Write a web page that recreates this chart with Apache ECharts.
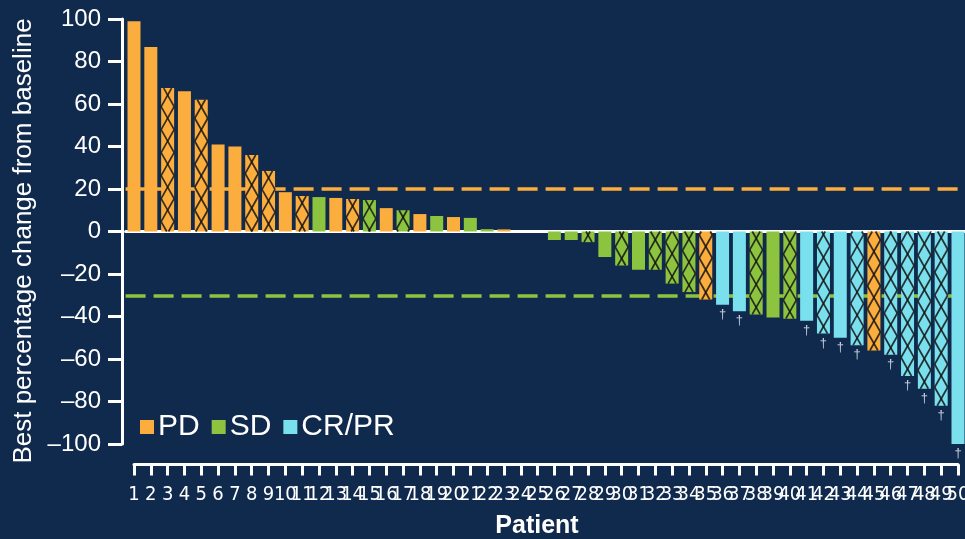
<!DOCTYPE html>
<html>
<head>
<meta charset="utf-8">
<script src="https://cdn.jsdelivr.net/npm/echarts@6/dist/echarts.min.js"></script>
<style>
  html, body { margin: 0; padding: 0; background: #102a4e; }
  #chart { width: 965px; height: 539px; }
</style>
</head>
<body>
<div id="chart"></div>
<script>
// Patients ordered by best percentage change from baseline
const patients = ['1','2','3','4','5','6','7','8','9','10','11','12','13','14','15','16','17','18','19','20','21','22','23','24','25',
                  '26','27','28','29','30','31','32','33','34','35','36','37','38','39','40','41','42','43','44','45','46','47','48','49','50'];
const bestChange = [99, 86.8, 67.5, 66, 62, 41, 40, 36, 28.5, 18.5,
                    16.7, 16.2, 15.8, 15.3, 14.8, 11, 10, 8.2, 7.3, 6.8,
                    6.4, 1.1, 1, 0, 0, -4, -4, -5, -12, -16,
                    -18, -18, -24.5, -28.5, -32, -34.5, -37.5, -39, -40.5, -41,
                    -42, -48, -50, -53.5, -56, -58, -68, -74, -82, -100];
const response = ['PD','PD','PD','PD','PD','PD','PD','PD','PD','PD',
                  'PD','SD','PD','PD','SD','PD','SD','PD','SD','PD',
                  'SD','SD','PD','SD','SD','SD','SD','SD','SD','SD',
                  'SD','SD','SD','SD','PD','CR/PR','CR/PR','SD','SD','SD',
                  'CR/PR','CR/PR','CR/PR','CR/PR','PD','CR/PR','CR/PR','CR/PR','CR/PR','CR/PR'];
// 1 = cross-hatched bar
const hatched = [0,0,1,0,1,0,0,1,1,0,
                 1,0,0,1,1,0,1,0,0,0,
                 0,0,0,0,0,0,0,1,0,1,
                 0,1,1,1,1,0,0,1,0,1,
                 0,1,0,1,1,1,1,1,1,0];
// 1 = dagger footnote under the bar
const dagger = [0,0,0,0,0,0,0,0,0,0,
                0,0,0,0,0,0,0,0,0,0,
                0,0,0,0,0,0,0,0,0,0,
                0,0,0,0,0,1,1,0,0,0,
                1,1,1,1,0,1,1,1,1,1];
const responseGroups = ['PD', 'SD', 'CR/PR'];
const pdThreshold = 20;
const prThreshold = -30;
const yTicks = [-100, -80, -60, -40, -20, 0, 20, 40, 60, 80, 100];

const colors = { 'PD': '#fbad3d', 'SD': '#8cc440', 'CR/PR': '#7ae0ee' };
const BG = '#102a4e';
const FONT = "'Liberation Sans', Arial, sans-serif";
const NARROW = "'Liberation Sans Narrow', 'DejaVu Sans Condensed', 'Arial Narrow', sans-serif";
const BAR_W = 13;
const CELL_H = 23;

const barSeries = responseGroups.map(function (g) {
  return {
    name: g,
    type: 'bar',
    xAxisIndex: 0, yAxisIndex: 0,
    barWidth: BAR_W,
    barGap: '-100%',
    z: 10,
    itemStyle: { color: colors[g] },
    data: bestChange.map(function (v, i) { return response[i] === g ? v : '-'; })
  };
});

// Clip a segment (x0,y0)-(x1,y1) vertically to [top, bottom]
function clipSeg(x0, y0, x1, y1, top, bottom) {
  let t0 = (top - y0) / (y1 - y0), t1 = (bottom - y0) / (y1 - y0);
  if (t0 > t1) { const t = t0; t0 = t1; t1 = t; }
  t0 = Math.max(0, t0); t1 = Math.min(1, t1);
  if (t1 <= t0) return null;
  return { x1: x0 + (x1 - x0) * t0, y1: y0 + (y1 - y0) * t0, x2: x0 + (x1 - x0) * t1, y2: y0 + (y1 - y0) * t1 };
}

const overlayData = bestChange.map(function (v, i) { return [i, v, hatched[i], dagger[i]]; });

const overlaySeries = {
  type: 'custom',
  xAxisIndex: 0, yAxisIndex: 0,
  z: 11,
  silent: true,
  data: overlayData,
  renderItem: function (params, api) {
    const idx = api.value(0), val = api.value(1);
    const end = api.coord([idx, val]);
    const zero = api.coord([idx, 0]);
    const cx = end[0];
    const L = cx - BAR_W / 2, R = cx + BAR_W / 2;
    const top = Math.min(end[1], zero[1]), bottom = Math.max(end[1], zero[1]);
    const children = [];
    if (api.value(2) && bottom - top > 1) {
      // cross-hatch cells anchored at the bar's far end
      const dir = val >= 0 ? 1 : -1;
      let start = end[1] - dir * 4.5;
      for (let k = 0; k < 40; k++) {
        const ya = start + dir * k * CELL_H, yb = ya + dir * CELL_H;
        if ((dir > 0 && ya > bottom) || (dir < 0 && ya < top)) break;
        [[L, ya, R, yb], [R, ya, L, yb]].forEach(function (s) {
          const c = clipSeg(s[0], s[1], s[2], s[3], top, bottom);
          if (c) children.push({ type: 'line', shape: c, style: { stroke: 'rgba(20,20,20,0.85)', lineWidth: 1.7 } });
        });
      }
    }
    if (api.value(3)) {
      children.push({
        type: 'text',
        style: { text: '\u2020', x: cx, y: end[1] + 3, align: 'center', verticalAlign: 'top',
                 fill: '#c9d1dc', font: '13px ' + FONT }
      });
    }
    return { type: 'group', children: children };
  }
};

// Dashed response thresholds, drawn behind the bars
const thresholdSeries = {
  type: 'line',
  xAxisIndex: 0, yAxisIndex: 0,
  z: 1,
  silent: true,
  data: patients.map(function () { return '-'; }),
  markLine: {
    silent: true,
    z: 1,
    symbol: 'none',
    label: { show: false },
    data: [
      { yAxis: pdThreshold, lineStyle: { color: colors['PD'], type: [20, 8], width: 3.5 } },
      { yAxis: prThreshold, lineStyle: { color: colors['SD'], type: [20, 8], width: 3.5 } }
    ]
  }
};

const chart = echarts.init(document.getElementById('chart'), null, { renderer: 'canvas' });
chart.setOption({
  backgroundColor: BG,
  animation: false,
  textStyle: { fontFamily: FONT },
  grid: [
    { left: 125.6, width: 840.8, top: 19, bottom: 95, outerBoundsMode: 'none' },
    { left: 134, width: 824, top: 420, height: 44.5, outerBoundsMode: 'none' }
  ],
  legend: {
    data: responseGroups,
    left: 135, top: 407,
    icon: 'rect',
    itemWidth: 14, itemHeight: 14,
    itemGap: 12,
    textStyle: { color: '#ffffff', fontSize: 30, fontFamily: FONT, padding: [0, 0, 0, -1] },
    selectedMode: false
  },
  xAxis: [
    {
      type: 'category', gridIndex: 0, data: patients,
      axisLine: { onZero: true, lineStyle: { color: '#ffffff', width: 3 } },
      axisTick: { show: false }, axisLabel: { show: false }, splitLine: { show: false }
    },
    {
      // bracket-style patient axis below the plot
      type: 'category', gridIndex: 1, data: patients, boundaryGap: false,
      axisLine: { show: true, lineStyle: { color: '#ffffff', width: 3 } },
      axisTick: { show: true, interval: 0, length: 11, lineStyle: { color: '#ffffff', width: 3 } },
      axisLabel: { color: '#ffffff', fontSize: 20, fontFamily: NARROW, margin: 20, interval: 0,
                   hideOverlap: false },
      splitLine: { show: false }
    }
  ],
  yAxis: [
    {
      type: 'value', gridIndex: 0, min: yTicks[0], max: yTicks[yTicks.length - 1], interval: 20,
      offset: 3.6,
      axisLine: { show: true, lineStyle: { color: '#ffffff', width: 3 } },
      axisTick: { show: true, length: 14, lineStyle: { color: '#ffffff', width: 3 } },
      axisLabel: { color: '#ffffff', fontSize: 24, fontFamily: FONT, margin: 21,
                   formatter: function (v) { return v < 0 ? '\u2013' + Math.abs(v) : String(v); } },
      splitLine: { show: false }
    },
    { type: 'value', gridIndex: 1, show: false, min: 0, max: 1 }
  ],
  graphic: [
    {
      type: 'text', x: 24, y: 241, rotation: Math.PI / 2,
      style: { text: 'Best percentage change from baseline', fill: '#ffffff',
               font: '26px ' + FONT, align: 'center', verticalAlign: 'middle' }
    },
    {
      type: 'text', x: 537, y: 526,
      style: { text: 'Patient', fill: '#ffffff', font: 'bold 25px ' + FONT,
               align: 'center', verticalAlign: 'middle' }
    }
  ],
  series: [thresholdSeries].concat(barSeries, [overlaySeries])
});
</script>
</body>
</html>
